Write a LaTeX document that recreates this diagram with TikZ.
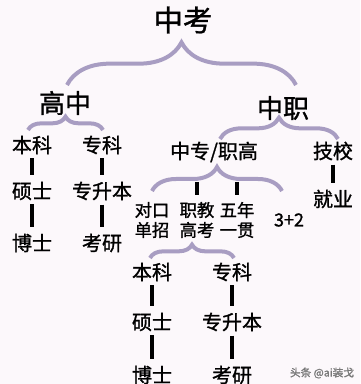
\documentclass[tikz,border=0pt]{standalone}
\usepackage{fontspec}
\newfontfamily\cjk[FakeBold=1.2]{Noto Sans CJK SC}
\usetikzlibrary{decorations.pathreplacing}
\definecolor{bgpink}{RGB}{252,248,251}
\definecolor{lilac}{RGB}{168,157,194}
\definecolor{markgray}{RGB}{120,120,120}
\tikzset{
  txt/.style={inner sep=0pt, align=center, font=\cjk\fontsize{#1pt}{#1pt}\selectfont},
  pair/.style={inner sep=0pt, align=center, font=\cjk\fontsize{13pt}{15pt}\selectfont},
  link/.style={line width=2.4pt, shorten <=3pt, shorten >=5pt},
  curly/.style={draw=lilac, line width=3pt, decorate, decoration={brace, amplitude=#1}}
}
\begin{document}
\begin{tikzpicture}[x=0.75pt, y=-0.75pt]
  \fill[bgpink] (0,0) rectangle (360,384);
  \useasboundingbox (0,0) rectangle (360,384);

  \node[txt=22] (zk) at (183,20) {中考};
  \node[txt=19.5] (gz) at (65,103) {高中};
  \node[txt=19.5] (zz) at (283,108) {中职};

  \node[txt=15] (gbk) at (32,145) {本科};
  \node[txt=15] (gzk) at (102,145) {专科};
  \node[txt=15] (gss) at (32,191) {硕士};
  \node[txt=15] (gzsb) at (102,191) {专升本};
  \node[txt=15] (gbs) at (32,243) {博士};
  \node[txt=15] (gky) at (102,243) {考研};

  \node[txt=15] (zgz) at (214,152) {中专/职高};
  \node[txt=15] (jx) at (333,151) {技校};
  \node[txt=15] (jy) at (333,199) {就业};

  \node[pair] (dkdz) at (152,220) {对口\\单招};
  \node[pair] (zjgk) at (197,220) {职教\\高考};
  \node[pair] (wnyg) at (237,220) {五年\\一贯};
  \node[txt=13.5] (sje) at (289,220) {3+2};

  \node[txt=15] (bk) at (152,272) {本科};
  \node[txt=15] (zkb) at (232,272) {专科};
  \node[txt=15] (ss) at (152,322) {硕士};
  \node[txt=15] (zsb) at (232,322) {专升本};
  \node[txt=15] (bs) at (152,375) {博士};
  \node[txt=15] (ky) at (232,375) {考研};

  \node[txt=8, text=markgray] (mark) at (322,373) {头条 @ai装戈};

  \coordinate (b1l) at (67,85);
  \coordinate (b1r) at (296,85);
  \coordinate (b2l) at (28,130);
  \coordinate (b2r) at (103,130);
  \coordinate (b3l) at (220,139);
  \coordinate (b3r) at (338,139);
  \coordinate (b4l) at (152,191);
  \coordinate (b4r) at (282,191);
  \coordinate (b5l) at (150,258);
  \coordinate (b5r) at (234,258);
  \coordinate (t1) at (197,182);
  \coordinate (t2) at (237,182);

  \draw[curly=32pt] (b1l) -- (b1r);
  \draw[curly=10pt] (b2l) -- (b2r);
  \draw[curly=16pt] (b3l) -- (b3r);
  \draw[curly=18pt] (b4l) -- (b4r);
  \draw[curly=10pt] (b5l) -- (b5r);

  \draw[link] (gbk) -- (gss);
  \draw[link] (gss) -- (gbs);
  \draw[link] (gzk) -- (gzsb);
  \draw[link] (gzsb) -- (gky);
  \draw[link] (jx) -- (jy);
  \draw[link, shorten <=0pt] (t1) -- (zjgk);
  \draw[link, shorten <=0pt] (t2) -- (wnyg);
  \draw[link] (bk) -- (ss);
  \draw[link] (ss) -- (bs);
  \draw[link] (zkb) -- (zsb);
  \draw[link] (zsb) -- (ky);
\end{tikzpicture}
\end{document}
